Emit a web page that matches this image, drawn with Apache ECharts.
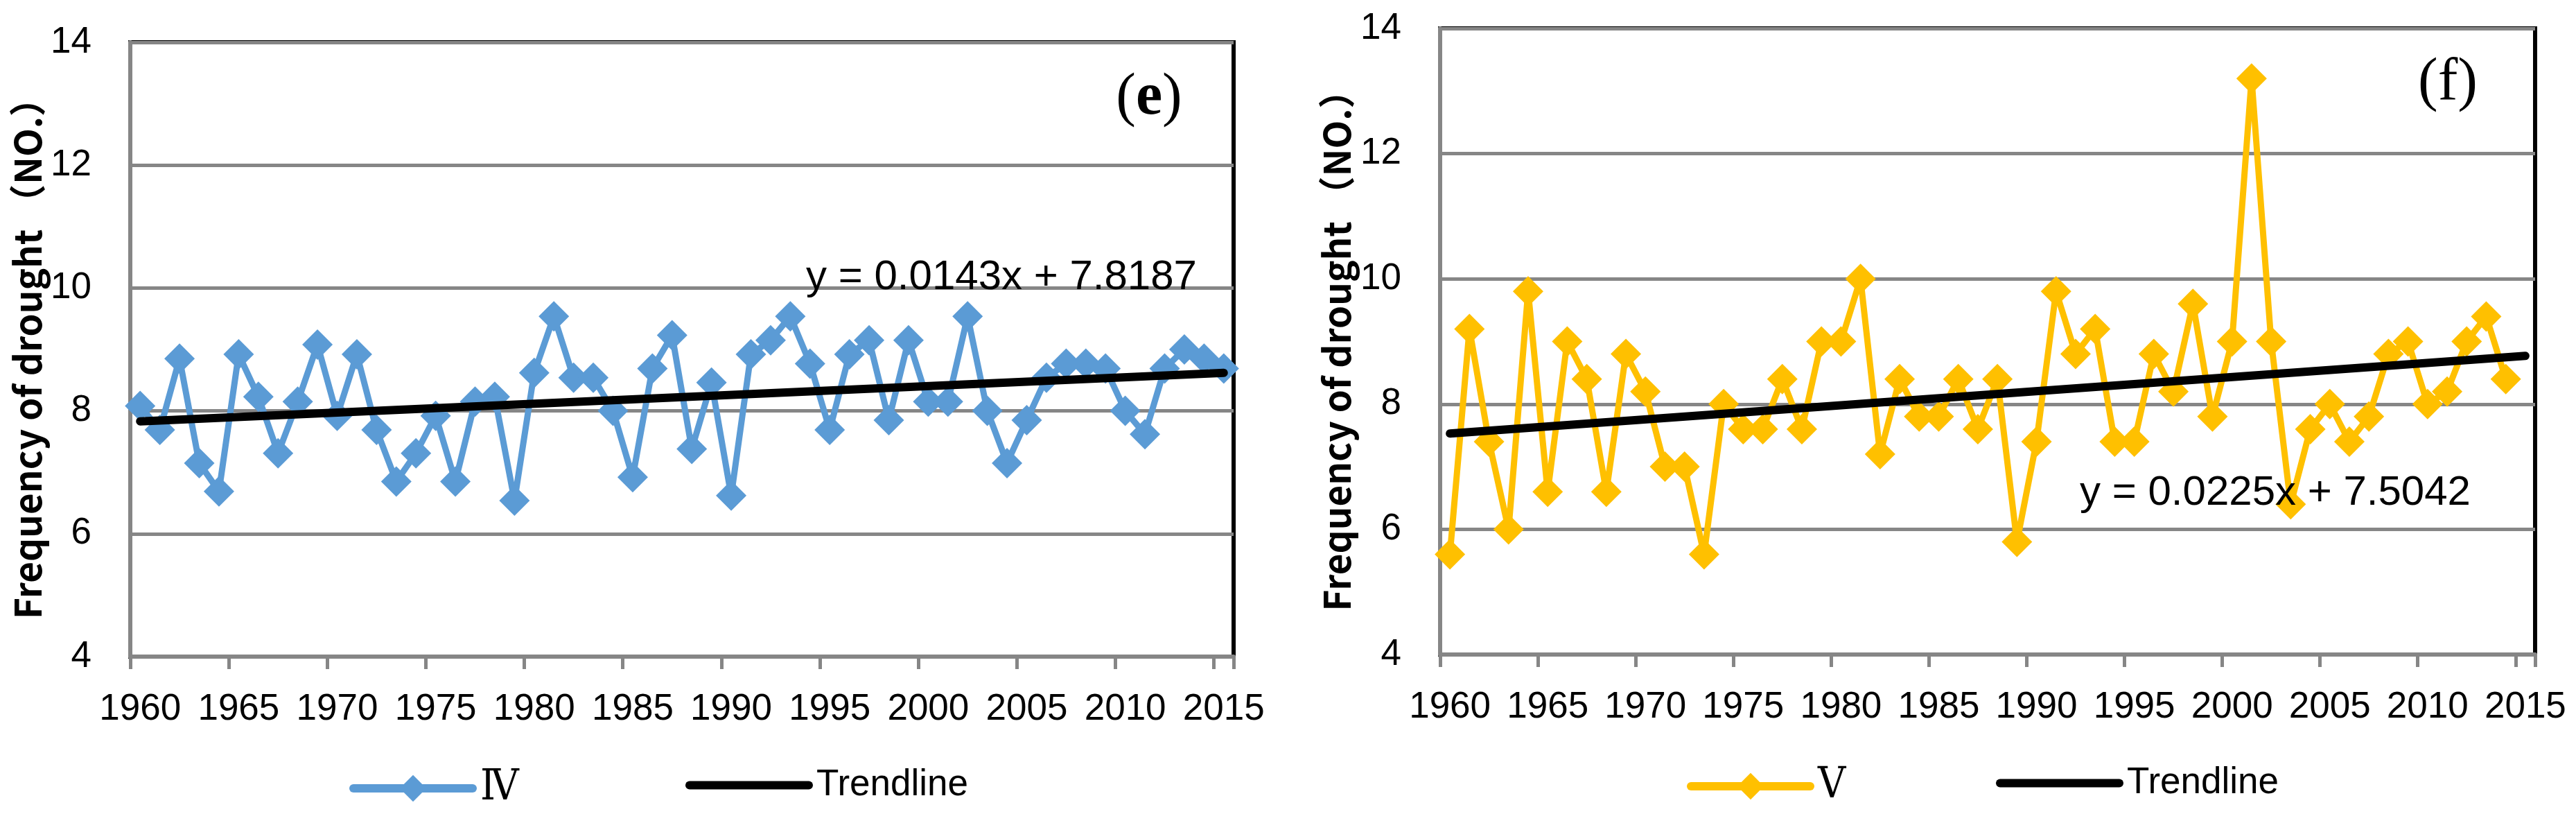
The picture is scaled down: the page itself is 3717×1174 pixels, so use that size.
<!DOCTYPE html>
<html>
<head>
<meta charset="utf-8">
<script src="https://cdn.jsdelivr.net/npm/echarts@6/dist/echarts.min.js"></script>
<style>
html,body{margin:0;padding:0;background:#fff;}
#c{width:3717px;height:1174px;}
</style>
</head>
<body>
<div id="c"></div>
<script>
// ---- data ----
const years = ['1960','1961','1962','1963','1964','1965','1966','1967','1968','1969',
  '1970','1971','1972','1973','1974','1975','1976','1977','1978','1979',
  '1980','1981','1982','1983','1984','1985','1986','1987','1988','1989',
  '1990','1991','1992','1993','1994','1995','1996','1997','1998','1999',
  '2000','2001','2002','2003','2004','2005','2006','2007','2008','2009',
  '2010','2011','2012','2013','2014','2015'];

const seriesIV = [8.08,7.69,8.85,7.15,6.69,8.92,8.23,7.31,8.15,9.08,
  7.92,8.92,7.69,6.85,7.31,7.92,6.85,8.15,8.23,6.54,
  8.62,9.54,8.54,8.54,8.00,6.92,8.69,9.23,7.38,8.46,
  6.62,8.92,9.15,9.54,8.77,7.69,8.92,9.15,7.85,9.15,
  8.15,8.15,9.54,8.00,7.15,7.85,8.54,8.77,8.77,8.69,
  8.00,7.62,8.69,9.00,8.85,8.69];

const seriesV = [5.6,9.2,7.4,6.0,9.8,6.6,9.0,8.4,6.6,8.8,
  8.2,7.0,7.0,5.6,8.0,7.6,7.6,8.4,7.6,9.0,
  9.0,10.0,7.2,8.4,7.8,7.8,8.4,7.6,8.4,5.8,
  7.4,9.8,8.8,9.2,7.4,7.4,8.8,8.2,9.6,7.8,
  9.0,13.2,9.0,6.4,7.6,8.0,7.4,7.8,8.8,9.0,
  8.0,8.2,9.0,9.4,8.4];

// trendline end values (first and last year)
const trendIV = [7.83, 8.62];
const trendV = [7.53, 8.77];

const yMin = 4, yMax = 14, yStep = 2;
const nameIV = 'Ⅳ', nameV = 'Ⅴ', nameTrend = 'Trendline';
const yTitle = 'Frequency of drought （NO.）';
const eqIV = 'y = 0.0143x + 7.8187';
const eqV = 'y = 0.0225x + 7.5042';
const panelE = 'e', panelF = 'f';

// ---- styling ----
const gray = '#868686';
const labelFont = "'Liberation Sans',Arial,sans-serif";
const romanFont = "'DejaVu Serif Condensed','DejaVu Serif','Noto Sans CJK SC',serif";
const colIV = '#5B9BD5', colV = '#FFC000';

function xAxisCfg(gi) {
  return {
    type: 'category', gridIndex: gi, data: years, boundaryGap: true,
    axisLine: {show: true, lineStyle: {color: gray, width: 6}},
    axisTick: {show: true, interval: 4, length: 18, lineStyle: {color: gray, width: 5}},
    axisLabel: {interval: 4, fontSize: 53, fontFamily: labelFont, color: '#000', margin: 50},
    splitLine: {show: false}
  };
}
function yAxisCfg(gi, gap) {
  return {
    type: 'value', gridIndex: gi, min: yMin, max: yMax, interval: yStep,
    axisLine: {show: true, lineStyle: {color: gray, width: 6}},
    axisTick: {show: false},
    axisLabel: {fontSize: 53, fontFamily: labelFont, color: '#000', margin: 56},
    splitLine: {show: true, lineStyle: {color: gray, width: 5}},
    name: yTitle, nameLocation: 'middle', nameRotate: 90, nameGap: gap,
    nameTextStyle: {fontSize: 53, fontWeight: 'bold', fontFamily: "'Noto Sans CJK SC'", color: '#000'}
  };
}
function dataSeries(name, data, col, gi) {
  return {
    type: 'line', name: name, xAxisIndex: gi, yAxisIndex: gi, data: data,
    symbol: 'diamond', symbolSize: 44, showAllSymbol: true,
    lineStyle: {color: col, width: 9, join: 'round'},
    itemStyle: {color: col},
    emphasis: {disabled: true}, z: 2
  };
}
function trendSeries(vals, gi) {
  return {
    type: 'line', name: nameTrend, xAxisIndex: gi, yAxisIndex: gi,
    data: [[years[0], vals[0]], [years[years.length - 1], vals[1]]],
    symbol: 'none', lineStyle: {color: '#000', width: 12, cap: 'round'},
    itemStyle: {color: '#000'}, emphasis: {disabled: true}, z: 3
  };
}
function legendCfg(name, left, top, fs, family, hideSymbol) {
  const cfg = {
    data: [name], left: left, top: top, padding: 0, itemWidth: 172, itemHeight: 48,
    selectedMode: false,
    lineStyle: {width: 12, cap: 'round'},
    textStyle: {fontSize: fs, fontFamily: family, color: '#000', padding: [0, 0, 0, 6]}
  };
  if (hideSymbol) cfg.itemStyle = {opacity: 0, borderWidth: 0};
  return cfg;
}

const chart = echarts.init(document.getElementById('c'), null, {renderer: 'canvas'});
chart.setOption({
  animation: false,
  backgroundColor: '#fff',
  grid: [
    {left: 188, top: 61, width: 1592, height: 886, show: true, borderColor: '#000', borderWidth: 6, backgroundColor: 'transparent', outerBoundsMode: 'none'},
    {left: 2078, top: 41, width: 1580, height: 903, show: true, borderColor: '#000', borderWidth: 6, backgroundColor: 'transparent', outerBoundsMode: 'none'}
  ],
  xAxis: [xAxisCfg(0), xAxisCfg(1)],
  yAxis: [yAxisCfg(0, 122), yAxisCfg(1, 123)],
  legend: [
    legendCfg(nameIV, 504, 1106, 62, romanFont, false),
    legendCfg(nameTrend, 989, 1106, 53, labelFont, true),
    legendCfg(nameV, 2434, 1103, 62, romanFont, false),
    legendCfg(nameTrend, 2880, 1103, 53, labelFont, true)
  ],
  series: [
    dataSeries(nameIV, seriesIV, colIV, 0),
    trendSeries(trendIV, 0),
    dataSeries(nameV, seriesV, colV, 1),
    trendSeries(trendV, 1)
  ],
  graphic: [
    {type: 'text', x: 1445, y: 400, z: 10, style: {text: eqIV, fontSize: 60, fontFamily: labelFont, fill: '#000', align: 'center', verticalAlign: 'middle'}},
    {type: 'text', x: 3283, y: 711, z: 10, style: {text: eqV, fontSize: 60, fontFamily: labelFont, fill: '#000', align: 'center', verticalAlign: 'middle'}},
    {type: 'text', x: 1658, y: 142, z: 10, style: {
      text: '{p|(}{b|' + panelE + '}{p|)}', align: 'center', verticalAlign: 'middle',
      rich: {
        p: {fontSize: 86, fontFamily: "'Liberation Serif',serif", fill: '#000', color: '#000'},
        b: {fontSize: 86, fontWeight: 'bold', fontFamily: "'Liberation Serif',serif", fill: '#000', color: '#000'}
      }}},
    {type: 'text', x: 3532, y: 120, z: 10, style: {text: '(' + panelF + ')', fontSize: 86, fontFamily: "'Liberation Serif',serif", fill: '#000', align: 'center', verticalAlign: 'middle'}}
  ]
});
</script>
</body>
</html>
